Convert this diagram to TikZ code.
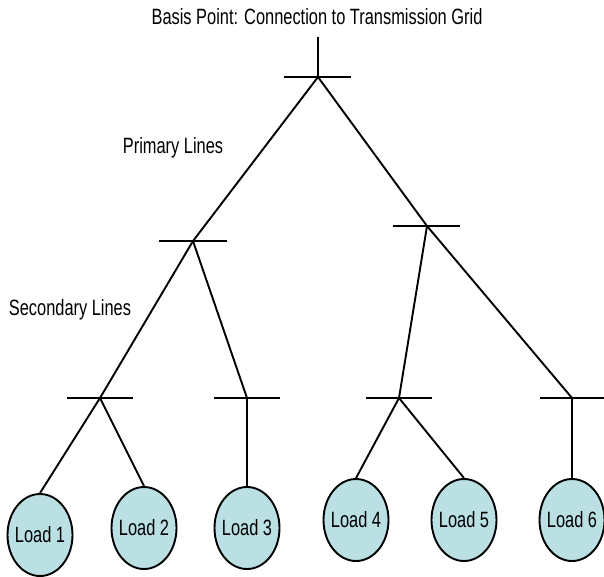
\documentclass[tikz,border=0pt]{standalone}
\usepackage{fontspec}
\setmainfont{Liberation Sans}
\usetikzlibrary{shapes.geometric}
\definecolor{loadfill}{RGB}{186,224,228}
\tikzset{
  wire/.style={line width=1.9pt, black},
  bar/.style={line width=1.9pt, black},
  loadnode/.style={ellipse, draw=black, line width=1.9pt, fill=loadfill, inner sep=0pt, minimum width=65pt, minimum height=82pt},
  lbl/.style={inner sep=0pt, font=\fontsize{16.4pt}{18pt}\selectfont}
}
\newcommand{\stxt}[1]{\scalebox{1}[1.35]{#1}}
\begin{document}
\begin{tikzpicture}[x=1pt,y=-1pt]
\useasboundingbox (0,0) rectangle (604,576);
% junction coordinates
\coordinate (top) at (318,37);
\coordinate (j0) at (318,77);
\coordinate (j1) at (193,241);
\coordinate (j2) at (427,226);
\coordinate (j3) at (100,398);
\coordinate (j4) at (247,398);
\coordinate (j5) at (399,398);
\coordinate (j6) at (572,398);
% bus bars
\draw[bar] (284,77) -- (351,77);
\draw[bar] (159,241) -- (227,241);
\draw[bar] (393,226) -- (460,226);
\draw[bar] (67,398) -- (133,398);
\draw[bar] (214,398) -- (280,398);
\draw[bar] (366,398) -- (432,398);
\draw[bar] (540,398) -- (604,398);
% loads
\node[loadnode] (load1) at (40,535) {};
\node[loadnode] (load2) at (144,528) {};
\node[loadnode] (load3) at (247,528) {};
\node[loadnode] (load4) at (356,520) {};
\node[loadnode] (load5) at (464,520) {};
\node[loadnode] (load6) at (572,520) {};
\foreach \i in {1,...,6} {\node[lbl] at (load\i.center) {\stxt{Load \i}};}
% wires
\draw[wire] (top) -- (j0);
\draw[wire] (j0) -- (j1);
\draw[wire] (j0) -- (j2);
\draw[wire] (j1) -- (j3);
\draw[wire] (j1) -- (j4);
\draw[wire] (j2) -- (j5);
\draw[wire] (j2) -- (j6);
\draw[wire] (j3) -- (load1.north);
\draw[wire] (j3) -- (load2.north);
\draw[wire] (j4) -- (load3.north);
\draw[wire] (j5) -- (load4.north);
\draw[wire] (j5) -- (load5.north);
\draw[wire] (j6) -- (load6.north);
% labels
\node[lbl] (basis) at (317,17) {\stxt{Basis Point: Connection to Transmission Grid}};
\node[lbl] (primary) at (173,148) {\stxt{Primary Lines}};
\node[lbl] (secondary) at (70,310) {\stxt{Secondary Lines}};
\end{tikzpicture}
\end{document}
